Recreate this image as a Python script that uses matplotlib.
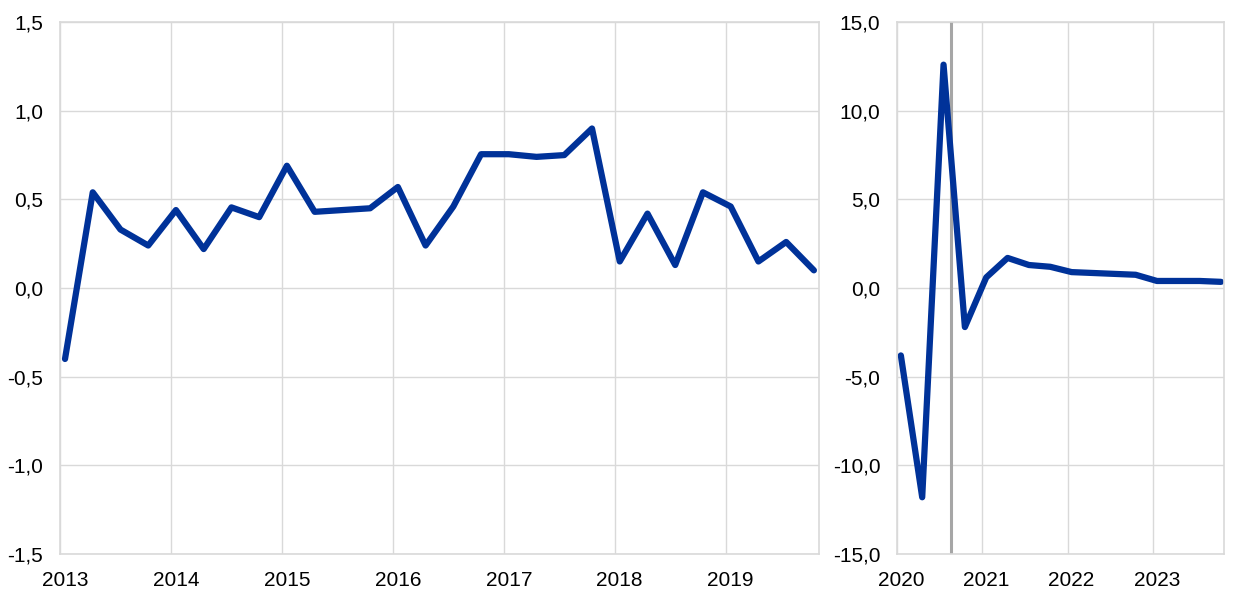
import matplotlib
matplotlib.use("Agg")
import matplotlib.pyplot as plt
from matplotlib.ticker import FuncFormatter, FixedLocator

plt.rcParams['font.family'] = ['Liberation Sans', 'DejaVu Sans']

# ---------- Data ----------
years_left = [2013, 2014, 2015, 2016, 2017, 2018, 2019]
values_left = [-0.40, 0.54, 0.33, 0.24, 0.44, 0.22, 0.455, 0.40,
               0.69, 0.43, 0.44, 0.45, 0.57, 0.24, 0.46, 0.755,
               0.755, 0.74, 0.75, 0.90, 0.15, 0.42, 0.13, 0.54,
               0.46, 0.15, 0.26, 0.10]

years_right = [2020, 2021, 2022, 2023]
values_right = [-3.8, -11.8, 12.6, -2.2, 0.6, 1.7, 1.3, 1.2,
                0.9, 0.85, 0.8, 0.75, 0.4, 0.4, 0.4, 0.35]

marker_date = 2020.63

BLUE = '#003299'
GRID = '#d9d9d9'


def quarter_positions(start_year, n):
    # observations sit just after the start of each quarter
    return [start_year + i / 4 + 0.045 for i in range(n)]


def comma(x, pos):
    return f"{x:.1f}".replace('.', ',')


def style_axes(ax, years, start, end):
    ax.set_xlim(start, end)
    ax.xaxis.set_major_locator(FixedLocator([y + 0.045 for y in years]))
    ax.xaxis.set_major_formatter(FuncFormatter(lambda x, p: str(int(round(x - 0.045)))))
    ax.xaxis.set_minor_locator(FixedLocator(years))
    ax.yaxis.set_major_formatter(FuncFormatter(comma))
    ax.grid(True, which='minor', axis='x', color=GRID, linewidth=1)
    ax.grid(True, which='major', axis='y', color=GRID, linewidth=1)
    ax.tick_params(which='both', length=0, labelsize=15, pad=12, colors='black')
    for s in ax.spines.values():
        s.set_color(GRID)
        s.set_linewidth(1.2)
    ax.set_axisbelow(True)


fig = plt.figure(figsize=(12.4, 6.01), dpi=100)
ax1 = fig.add_axes([0.0484, 0.0782, 0.612, 0.885])
ax2 = fig.add_axes([0.7234, 0.0782, 0.2637, 0.885])

# ---------- Left panel ----------
ax1.plot(quarter_positions(2013, len(values_left)), values_left,
         color=BLUE, linewidth=4.5, solid_joinstyle='round', solid_capstyle='round')
ax1.set_ylim(-1.5, 1.5)
ax1.set_yticks([-1.5, -1.0, -0.5, 0.0, 0.5, 1.0, 1.5])
style_axes(ax1, years_left, 2013, 2019.84)

# ---------- Right panel ----------
ax2.plot(quarter_positions(2020, len(values_right)), values_right,
         color=BLUE, linewidth=4.5, solid_joinstyle='round', solid_capstyle='round')
ax2.axvline(marker_date, color='#a6a6a6', linewidth=2.2, zorder=1.5)
ax2.set_ylim(-15, 15)
ax2.set_yticks([-15, -10, -5, 0, 5, 10, 15])
style_axes(ax2, years_right, 2020, 2023.83)

plt.savefig("out.png", dpi=100)
